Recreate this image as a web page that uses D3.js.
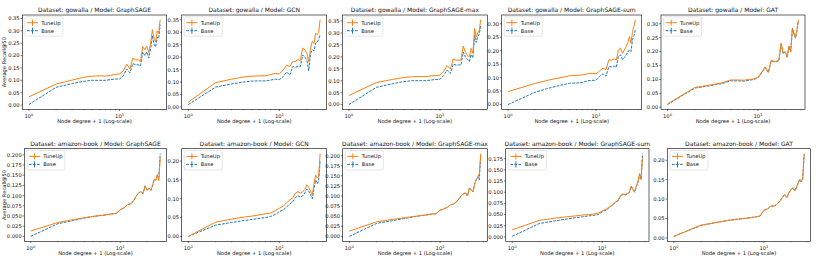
<!DOCTYPE html>
<html>
<head>
<meta charset="utf-8">
<script src="https://cdn.jsdelivr.net/npm/d3@7"></script>
<style>
  body { margin: 0; background: #fff; }
  svg { display: block; }
  text { font-family: "DejaVu Sans", sans-serif; fill: #111; }
</style>
</head>
<body>
<svg class="main" width="830" height="258"></svg>
<script>
// node degree + 1
var DEGREES = [1, 2, 3, 4, 5, 6, 7, 8, 9, 10, 11, 12, 13, 14, 15, 16, 17, 18, 19, 20, 21, 22, 23, 24, 25, 26, 27, 28];
var SERIES_NAMES = ["TuneUp", "Base"];
var COLORS = ["#ff7f0e", "#1f77b4"];
var DATASETS = ["gowalla", "amazon-book"];
var MODELS = ["GraphSAGE", "GCN", "GraphSAGE-max", "GraphSAGE-sum", "GAT"];

// gowalla
var GW_SAGE_TUNEUP = [0.033, 0.085, 0.101, 0.112, 0.117, 0.118, 0.117, 0.120, 0.124, 0.126, 0.138, 0.165, 0.146, 0.190, 0.183, 0.183, 0.176, 0.236, 0.224, 0.238, 0.212, 0.250, 0.305, 0.270, 0.255, 0.300, 0.290, 0.345];
var GW_SAGE_BASE   = [0.002, 0.072, 0.087, 0.096, 0.100, 0.100, 0.100, 0.103, 0.105, 0.106, 0.118, 0.146, 0.130, 0.168, 0.163, 0.163, 0.158, 0.215, 0.200, 0.215, 0.190, 0.228, 0.280, 0.245, 0.235, 0.275, 0.270, 0.325];
var GW_GCN_TUNEUP  = [0.020, 0.098, 0.112, 0.120, 0.124, 0.125, 0.125, 0.130, 0.135, 0.133, 0.148, 0.168, 0.162, 0.182, 0.183, 0.190, 0.186, 0.236, 0.230, 0.218, 0.182, 0.235, 0.263, 0.255, 0.296, 0.290, 0.300, 0.350];
var GW_GCN_BASE    = [0.010, 0.080, 0.093, 0.100, 0.104, 0.105, 0.105, 0.108, 0.112, 0.110, 0.122, 0.141, 0.128, 0.162, 0.160, 0.162, 0.162, 0.209, 0.200, 0.190, 0.145, 0.215, 0.229, 0.225, 0.256, 0.260, 0.270, 0.290];
var GW_MAX_TUNEUP  = [0.038, 0.092, 0.105, 0.113, 0.117, 0.117, 0.117, 0.120, 0.122, 0.123, 0.140, 0.163, 0.149, 0.191, 0.185, 0.186, 0.186, 0.245, 0.220, 0.205, 0.200, 0.235, 0.215, 0.318, 0.283, 0.300, 0.310, 0.355];
var GW_MAX_BASE    = [0.000, 0.072, 0.087, 0.096, 0.100, 0.100, 0.100, 0.103, 0.105, 0.106, 0.122, 0.145, 0.130, 0.170, 0.165, 0.166, 0.165, 0.220, 0.200, 0.190, 0.180, 0.210, 0.195, 0.290, 0.260, 0.285, 0.295, 0.330];
var GW_SUM_TUNEUP  = [0.048, 0.078, 0.092, 0.100, 0.107, 0.108, 0.110, 0.114, 0.116, 0.114, 0.125, 0.135, 0.130, 0.166, 0.165, 0.170, 0.165, 0.203, 0.210, 0.190, 0.203, 0.215, 0.230, 0.253, 0.228, 0.272, 0.290, 0.315];
var GW_SUM_BASE    = [0.000, 0.045, 0.062, 0.072, 0.079, 0.080, 0.082, 0.088, 0.090, 0.090, 0.105, 0.114, 0.105, 0.141, 0.140, 0.143, 0.138, 0.179, 0.185, 0.167, 0.175, 0.185, 0.195, 0.203, 0.197, 0.240, 0.255, 0.278];
var GW_GAT_TUNEUP  = [0.012, 0.071, 0.080, 0.088, 0.098, 0.098, 0.097, 0.100, 0.102, 0.108, 0.126, 0.145, 0.126, 0.169, 0.165, 0.166, 0.169, 0.230, 0.194, 0.200, 0.180, 0.220, 0.200, 0.285, 0.265, 0.250, 0.280, 0.314];
var GW_GAT_BASE    = [0.010, 0.069, 0.078, 0.085, 0.095, 0.095, 0.094, 0.097, 0.100, 0.106, 0.124, 0.143, 0.124, 0.167, 0.163, 0.164, 0.167, 0.228, 0.192, 0.198, 0.178, 0.218, 0.198, 0.283, 0.262, 0.248, 0.278, 0.312];

// amazon-book
var AB_SAGE_TUNEUP = [0.013, 0.034, 0.041, 0.046, 0.049, 0.051, 0.053, 0.055, 0.056, 0.065, 0.070, 0.077, 0.080, 0.086, 0.098, 0.106, 0.110, 0.105, 0.124, 0.113, 0.118, 0.113, 0.125, 0.140, 0.138, 0.152, 0.137, 0.193];
var AB_SAGE_BASE   = [0.000, 0.031, 0.039, 0.045, 0.049, 0.051, 0.053, 0.055, 0.056, 0.065, 0.070, 0.077, 0.080, 0.086, 0.098, 0.106, 0.110, 0.105, 0.124, 0.113, 0.118, 0.113, 0.125, 0.140, 0.138, 0.150, 0.145, 0.203];
var AB_GCN_TUNEUP  = [0.000, 0.038, 0.046, 0.051, 0.054, 0.057, 0.060, 0.062, 0.068, 0.075, 0.080, 0.089, 0.097, 0.102, 0.115, 0.119, 0.115, 0.118, 0.125, 0.137, 0.130, 0.120, 0.110, 0.140, 0.163, 0.155, 0.160, 0.220];
var AB_GCN_BASE    = [0.000, 0.030, 0.037, 0.042, 0.045, 0.048, 0.050, 0.053, 0.058, 0.066, 0.070, 0.078, 0.086, 0.092, 0.103, 0.108, 0.104, 0.108, 0.115, 0.126, 0.120, 0.110, 0.100, 0.128, 0.150, 0.140, 0.148, 0.200];
var AB_MAX_TUNEUP  = [0.013, 0.036, 0.042, 0.046, 0.049, 0.051, 0.053, 0.055, 0.056, 0.065, 0.068, 0.072, 0.078, 0.080, 0.085, 0.092, 0.100, 0.105, 0.108, 0.100, 0.120, 0.115, 0.110, 0.130, 0.140, 0.148, 0.155, 0.205];
var AB_MAX_BASE    = [0.000, 0.032, 0.039, 0.044, 0.048, 0.051, 0.053, 0.055, 0.056, 0.065, 0.068, 0.072, 0.078, 0.080, 0.085, 0.092, 0.100, 0.105, 0.108, 0.100, 0.120, 0.115, 0.110, 0.130, 0.140, 0.148, 0.140, 0.200];
var AB_SUM_TUNEUP  = [0.016, 0.037, 0.042, 0.045, 0.047, 0.049, 0.050, 0.051, 0.053, 0.058, 0.062, 0.067, 0.072, 0.078, 0.082, 0.093, 0.096, 0.095, 0.097, 0.100, 0.114, 0.106, 0.103, 0.115, 0.125, 0.142, 0.130, 0.175];
var AB_SUM_BASE    = [0.0015, 0.030, 0.036, 0.040, 0.043, 0.045, 0.047, 0.048, 0.050, 0.056, 0.060, 0.066, 0.071, 0.077, 0.081, 0.092, 0.095, 0.094, 0.096, 0.099, 0.113, 0.104, 0.100, 0.113, 0.122, 0.140, 0.128, 0.186];
var AB_GAT_TUNEUP  = [0.004, 0.033, 0.040, 0.045, 0.048, 0.050, 0.052, 0.054, 0.056, 0.071, 0.075, 0.082, 0.082, 0.087, 0.094, 0.104, 0.112, 0.104, 0.117, 0.124, 0.129, 0.121, 0.130, 0.142, 0.150, 0.145, 0.155, 0.217];
var AB_GAT_BASE    = [0.004, 0.032, 0.040, 0.045, 0.048, 0.050, 0.052, 0.054, 0.056, 0.071, 0.075, 0.082, 0.082, 0.087, 0.094, 0.104, 0.112, 0.104, 0.117, 0.124, 0.129, 0.121, 0.130, 0.141, 0.150, 0.144, 0.153, 0.215];

// y tick labels per panel
var YTICKS_035 = [0.00, 0.05, 0.10, 0.15, 0.20, 0.25, 0.30, 0.35];
var YTICKS_030 = [0.00, 0.05, 0.10, 0.15, 0.20, 0.25, 0.30];
var YTICKS_020 = [0.00, 0.05, 0.10, 0.15, 0.20];
var YTICKS_0200 = [0.000, 0.025, 0.050, 0.075, 0.100, 0.125, 0.150, 0.175, 0.200];
var YTICKS_0175 = [0.000, 0.025, 0.050, 0.075, 0.100, 0.125, 0.150, 0.175];
var XTICK_EXP = [0, 1];

var SERIES = [
  [[GW_SAGE_TUNEUP, GW_SAGE_BASE], [GW_GCN_TUNEUP, GW_GCN_BASE], [GW_MAX_TUNEUP, GW_MAX_BASE], [GW_SUM_TUNEUP, GW_SUM_BASE], [GW_GAT_TUNEUP, GW_GAT_BASE]],
  [[AB_SAGE_TUNEUP, AB_SAGE_BASE], [AB_GCN_TUNEUP, AB_GCN_BASE], [AB_MAX_TUNEUP, AB_MAX_BASE], [AB_SUM_TUNEUP, AB_SUM_BASE], [AB_GAT_TUNEUP, AB_GAT_BASE]]
];
var YTICKS = [
  [YTICKS_035, YTICKS_035, YTICKS_035, YTICKS_030, YTICKS_030],
  [YTICKS_0200, YTICKS_020, YTICKS_0200, YTICKS_0175, YTICKS_020]
];

// panel frames (layout)
var ROW_Y = [[15, 109.3], [148.7, 241.3]];
var COL_X = [
  [[22.3, 166.7], [181.7, 326.7], [342.3, 487.3], [501.7, 641.7], [661, 805]],
  [[24.3, 166.7], [181.7, 326.7], [342.7, 487.3], [505.7, 649], [667.3, 810.7]]
];

var svg = d3.select("svg.main");

function drawPanel(r, c) {
  var x0 = COL_X[r][c][0], x1 = COL_X[r][c][1];
  var y0 = ROW_Y[r][0], y1 = ROW_Y[r][1];
  var pair = SERIES[r][c];
  var ticks = YTICKS[r][c];
  var g = svg.append("g");

  // log x with 5% margins like matplotlib
  var lmin = Math.log10(d3.min(DEGREES)), lmax = Math.log10(d3.max(DEGREES));
  var lpad = (lmax - lmin) * 0.05;
  var x = d3.scaleLog().domain([Math.pow(10, lmin - lpad), Math.pow(10, lmax + lpad)]).range([x0, x1]);

  var all = pair[0].concat(pair[1]);
  var vmin = d3.min(all), vmax = d3.max(all);
  var vpad = (vmax - vmin) * 0.05;
  var y = d3.scaleLinear().domain([vmin - vpad - 0.002, vmax + vpad + 0.002]).range([y1, y0]);

  var fmt = ticks[1] - ticks[0] < 0.04 ? d3.format(".3f") : d3.format(".2f");

  // lines
  var line = d3.line().x(function(d) { return x(d[0]); }).y(function(d) { return y(d[1]); });
  [1, 0].forEach(function(si) {
    var pts = DEGREES.map(function(dg, i) { return [dg, pair[si][i]]; });
    g.append("path")
      .datum(pts)
      .attr("d", line)
      .attr("fill", "none")
      .attr("stroke", COLORS[si])
      .attr("stroke-width", 1)
      .attr("stroke-linejoin", "round")
      .attr("stroke-dasharray", si == 1 ? "2.8,1.2" : null);
  });

  // frame
  g.append("rect")
    .attr("x", x0).attr("y", y0)
    .attr("width", x1 - x0).attr("height", y1 - y0)
    .attr("fill", "none").attr("stroke", "#000").attr("stroke-width", 0.6);

  // y ticks
  ticks.forEach(function(t) {
    var yy = y(t);
    g.append("line").attr("x1", x0 - 1.8).attr("x2", x0).attr("y1", yy).attr("y2", yy)
      .attr("stroke", "#000").attr("stroke-width", 0.5);
    g.append("text").attr("x", x0 - 2.6).attr("y", yy + 1.9)
      .attr("text-anchor", "end").attr("font-size", 5.2).text(fmt(t));
  });

  // x major ticks
  XTICK_EXP.forEach(function(e) {
    var xx = x(Math.pow(10, e));
    g.append("line").attr("x1", xx).attr("x2", xx).attr("y1", y1).attr("y2", y1 + 1.8)
      .attr("stroke", "#000").attr("stroke-width", 0.5);
    var t = g.append("text").attr("x", xx).attr("y", y1 + 8.3)
      .attr("text-anchor", "middle").attr("font-size", 5.2);
    t.append("tspan").text("10");
    t.append("tspan").attr("font-size", 3.7).attr("dy", -2).text(String(e));
  });
  // x minor ticks
  var dom = x.domain();
  [2, 3, 4, 5, 6, 7, 8, 9, 20, 30].forEach(function(v) {
    if (v < dom[0] || v > dom[1]) return;
    var xx = x(v);
    g.append("line").attr("x1", xx).attr("x2", xx).attr("y1", y1).attr("y2", y1 + 1)
      .attr("stroke", "#000").attr("stroke-width", 0.4);
  });

  // title
  g.append("text").attr("x", (x0 + x1) / 2).attr("y", y0 - 2.6)
    .attr("text-anchor", "middle").attr("font-size", 6)
    .text("Dataset: " + DATASETS[r] + " / Model: " + MODELS[c]);

  // x label
  g.append("text").attr("x", (x0 + x1) / 2).attr("y", y1 + 13.6)
    .attr("text-anchor", "middle").attr("font-size", 5.2)
    .text("Node degree + 1 (Log-scale)");

  // y label on first column
  if (c == 0) {
    g.append("text")
      .attr("transform", "translate(" + 6.4 + "," + ((y0 + y1) / 2) + ") rotate(-90)")
      .attr("text-anchor", "middle").attr("font-size", 5.2)
      .text("Average Recall@50");
  }

  // legend
  var lg = g.append("g").attr("transform", "translate(" + (x0 + 2.6) + "," + (y0 + 1.8) + ")");
  lg.append("rect").attr("width", 38).attr("height", 19.4).attr("rx", 1.2)
    .attr("fill", "#fff").attr("fill-opacity", 0.8).attr("stroke", "#ccc").attr("stroke-width", 0.5);
  SERIES_NAMES.forEach(function(name, i) {
    var ly = 5.9 + i * 8;
    lg.append("line").attr("x1", 2).attr("x2", 13.2).attr("y1", ly).attr("y2", ly)
      .attr("stroke", COLORS[i]).attr("stroke-width", 1)
      .attr("stroke-dasharray", i == 1 ? "2.8,1.2" : null);
    lg.append("line").attr("x1", 7.6).attr("x2", 7.6).attr("y1", ly - 3).attr("y2", ly + 3)
      .attr("stroke", COLORS[i]).attr("stroke-width", 1);
    lg.append("text").attr("x", 16.4).attr("y", ly + 1.9).attr("font-size", 5.2).text(name);
  });
}

function main() {
  for (var r = 0; r < 2; r++) {
    for (var c = 0; c < 5; c++) {
      drawPanel(r, c);
    }
  }
}

main();
</script>
</body>
</html>
